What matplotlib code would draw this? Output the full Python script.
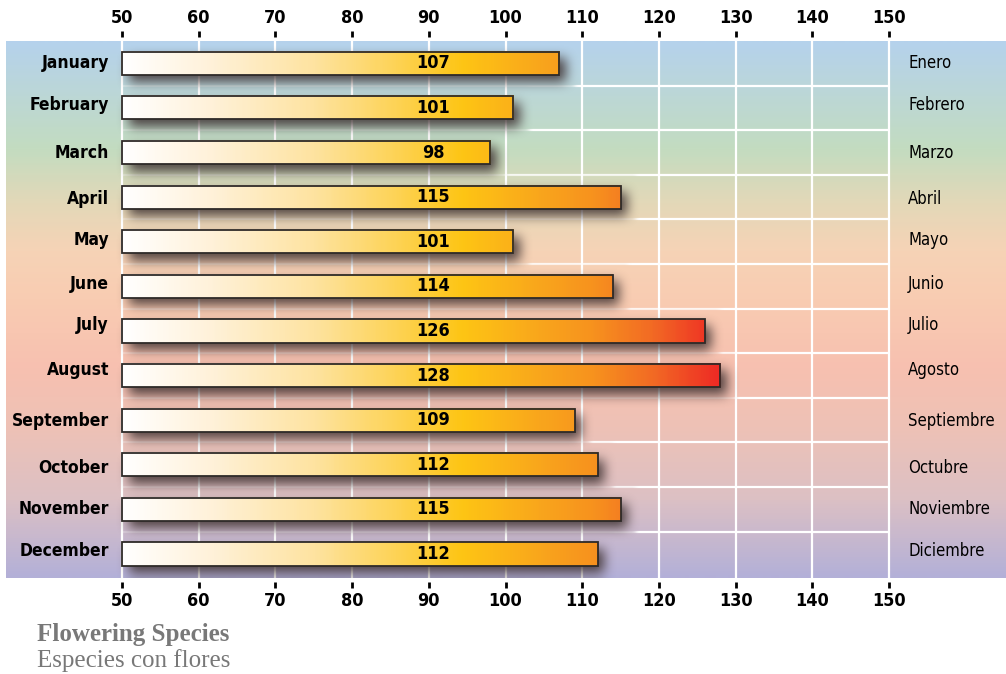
import numpy as np
import matplotlib.pyplot as plt
from matplotlib.colors import LinearSegmentedColormap, to_rgb

months = ["January", "February", "March", "April", "May", "June", "July",
          "August", "September", "October", "November", "December"]
meses = ["Enero", "Febrero", "Marzo", "Abril", "Mayo", "Junio", "Julio",
         "Agosto", "Septiembre", "Octubre", "Noviembre", "Diciembre"]
species = [107, 101, 98, 115, 101, 114, 126, 128, 109, 112, 115, 112]
ticks = [50, 60, 70, 80, 90, 100, 110, 120, 130, 140, 150]

# small vertical nudges (pixels) of the month names, as in the original
label_nudge = [0, -3, 0, 2, -2, -2, -6, -6, 1, 3, 0, -3]

x0, x1 = 34.87, 165.26
ytop, ybot = -0.50, 11.54
bar_h = 0.52
cond = dict(family="DejaVu Sans", fontstretch="condensed")

fig = plt.figure(figsize=(10.06, 6.74), dpi=100)
ax = fig.add_axes([6/1006, (674-578)/674, 1000/1006, (578-41)/674])
ax.set_xlim(x0, x1)
ax.set_ylim(ybot, ytop)

# background band
bg = LinearSegmentedColormap.from_list("bg", [
    (0.0, "#b5d2ec"), (0.20, "#c3dcc0"), (0.30, "#e3d8b8"), (0.39, "#f6d3b6"),
    (0.48, "#f9ccb2"), (0.61, "#f7c0b0"), (0.72, "#eec2b6"), (0.855, "#dcc0c4"),
    (1.0, "#b3b0d8")])
grad = np.linspace(0, 1, 537)
ax.imshow(grad.reshape(-1, 1), cmap=bg, aspect="auto",
          extent=(x0, x1, ybot, ytop), origin="upper", zorder=0)

# grid
ax.set_xticks(ticks)
ax.grid(axis="x", color="white", lw=1.6, zorder=1)
mids = np.arange(len(months) - 1) + 0.5
ax.hlines(mids, 50, 150, color="white", lw=1.6, zorder=1)

# pixel grid for haze + shadows
W, H = 1000, 537
def to_px(x, y):
    return (x - x0) / (x1 - x0) * W, (y - ytop) / (ybot - ytop) * H

def box_blur(a, r):
    for axis in (0, 1):
        p = np.pad(a, [(r + 1, r) if k == axis else (0, 0) for k in (0, 1)], mode="edge")
        c = np.cumsum(p, axis=axis)
        if axis == 0:
            a = (c[2*r + 1:] - c[:-2*r - 1]) / (2*r + 1)
        else:
            a = (c[:, 2*r + 1:] - c[:, :-2*r - 1]) / (2*r + 1)
    return a

haze = np.zeros((H, W))
mask = np.zeros((H, W))
for i, v in enumerate(species):
    ca, ra = to_px(50, i - bar_h / 2)
    cb, rb = to_px(v, i + bar_h / 2)
    ca, ra, cb, rb = int(ca), int(ra), int(cb), int(rb)
    haze[max(ra - 9, 0):rb + 15, ca - 4:cb + 16] = 1.0
    mask[ra + 7:rb + 8, ca + 7:cb + 7] = 1.0
for _ in range(2):
    haze = box_blur(haze, 2)
for _ in range(3):
    mask = box_blur(mask, 5)

# haze: background colour laid over the grid around the bars
haze_img = bg(np.repeat(grad.reshape(-1, 1), W, axis=1))
haze_img[..., 3] = np.clip(haze, 0, 1) * 0.72
ax.imshow(haze_img, aspect="auto", extent=(x0, x1, ybot, ytop), origin="upper",
          zorder=1.5, interpolation="bilinear")

shadow = np.zeros((H, W, 4))
shadow[..., :3] = to_rgb("#3d3030")
shadow[..., 3] = np.clip(mask * 1.15, 0, 1) * 0.75
ax.imshow(shadow, aspect="auto", extent=(x0, x1, ybot, ytop), origin="upper",
          zorder=2, interpolation="bilinear")

# gradient bars
warm = LinearSegmentedColormap.from_list("warm", [
    (0.0, "#ffffff"), (0.15, "#fff1d8"), (0.32, "#fee3a0"), (0.45, "#fdd45a"),
    (0.57, "#fec514"), (0.70, "#f9a61c"), (0.79, "#f7921e"), (0.89, "#f26a24"),
    (1.0, "#ee2a25")])
for i, v in enumerate(species):
    g = np.linspace(50, v, 200).reshape(1, -1)
    ax.imshow(g, cmap=warm, vmin=50, vmax=128, aspect="auto",
              extent=(50, v, i + bar_h / 2, i - bar_h / 2), zorder=3)
ax.barh(range(len(species)), np.array(species) - 50, left=50, height=bar_h,
        facecolor="none", edgecolor="#2e2a28", lw=1.3, zorder=4)
ax.set_xlim(x0, x1)
ax.set_ylim(ybot, ytop)

for i, v in enumerate(species):
    ax.text(90.6, i, str(v), ha="center", va="center", fontsize=13,
            fontweight="bold", color="black", zorder=5, **cond)

# month labels
for i, (m, s) in enumerate(zip(months, meses)):
    ax.annotate(m, (48.3, i), xytext=(0, -label_nudge[i] * 0.72),
                textcoords="offset points", ha="right", va="center",
                fontsize=12.5, fontweight="bold", zorder=5, **cond)
    ax.annotate(s, (152.5, i), xytext=(0, -label_nudge[i] * 0.72),
                textcoords="offset points", ha="left", va="center",
                fontsize=12, zorder=5, **cond)

# axes ticks top & bottom
ax.set_yticks([])
for sp in ax.spines.values():
    sp.set_visible(False)
ax.spines["top"].set_position(("outward", 3))
ax.spines["bottom"].set_position(("outward", 3))
ax.tick_params(axis="x", top=True, labeltop=True, bottom=True, labelbottom=True,
               direction="out", length=4.5, width=2, color="black", pad=2.5,
               labelsize=13)
for lab in ax.get_xticklabels():
    lab.set_fontweight("bold")
    lab.set_family("DejaVu Sans")
    lab.set_fontstretch("condensed")

serif = ["Liberation Serif", "DejaVu Serif"]
fig.text(37/1006, 1 - 641/674, "Flowering Species", fontsize=18, fontweight="bold",
         family=serif, color="#787878", va="baseline")
fig.text(37/1006, 1 - 667/674, "Especies con flores", fontsize=18,
         family=serif, color="#787878", va="baseline")

fig.savefig("out.png", dpi=100)
